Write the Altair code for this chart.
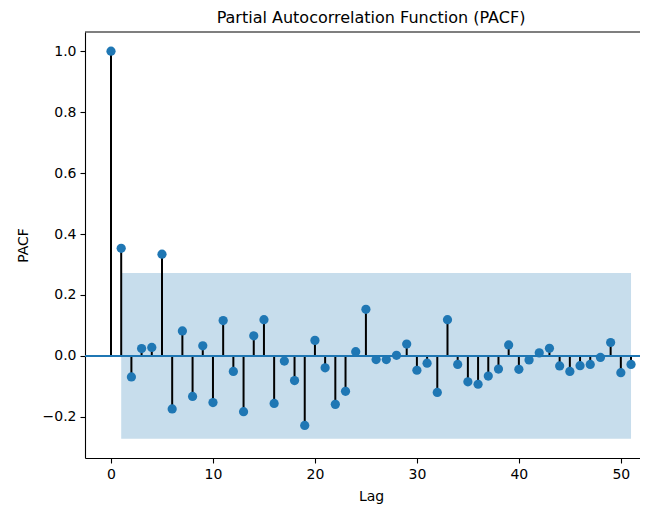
import altair as alt
import pandas as pd

lags = list(range(52))
pacf = [1.0, 0.353, -0.069, 0.024, 0.028, 0.334, -0.174, 0.082, -0.133, 0.033,
        -0.153, 0.116, -0.051, -0.183, 0.066, 0.119, -0.156, -0.017, -0.081, -0.228,
        0.051, -0.039, -0.159, -0.116, 0.014, 0.153, -0.012, -0.012, 0.002, 0.039,
        -0.047, -0.024, -0.120, 0.119, -0.028, -0.085, -0.093, -0.066, -0.043, 0.036,
        -0.044, -0.013, 0.010, 0.025, -0.033, -0.051, -0.032, -0.028, -0.005, 0.044,
        -0.055, -0.028]
band_lag = [1, 51]
conf = 0.272
x_ticks = [0, 10, 20, 30, 40, 50]
y_ticks = [-0.2, 0.0, 0.2, 0.4, 0.6, 0.8, 1.0]
y_domain = [-0.335, 1.063]
x_domain = [-2.55, 51.88]

df = pd.DataFrame({"lag": lags, "pacf": pacf, "base": [0.0] * len(lags)})
band_df = pd.DataFrame({"x": [band_lag[0]], "x2": [band_lag[1]], "lo": [-conf], "hi": [conf],
                        "zero": [0.0], "top": [y_domain[1]]})

C0 = "#1f77b4"
xs = alt.Scale(domain=x_domain, nice=False, zero=False)
ys = alt.Scale(domain=y_domain, nice=False, zero=False)

xax = alt.Axis(values=x_ticks, title="Lag", grid=False, format="d")
yax = alt.Axis(values=y_ticks, title="PACF", grid=False, format=".1f")

band = alt.Chart(band_df).mark_rect(color=C0, opacity=0.25).encode(
    x=alt.X("x:Q", scale=xs, axis=xax), x2="x2:Q",
    y=alt.Y("lo:Q", scale=ys, axis=yax), y2="hi:Q")

stems = alt.Chart(df).mark_rule(color="black", strokeWidth=2).encode(
    x=alt.X("lag:Q", scale=xs), y=alt.Y("base:Q", scale=ys), y2="pacf:Q")

zero = alt.Chart(band_df).mark_rule(color=C0, strokeWidth=2).encode(
    y=alt.Y("zero:Q", scale=ys))

pts = alt.Chart(df).mark_circle(color=C0, opacity=1, size=85).encode(
    x=alt.X("lag:Q", scale=xs), y=alt.Y("pacf:Q", scale=ys))

top = alt.Chart(band_df).mark_rule(color="black", strokeWidth=1.1).encode(
    y=alt.Y("top:Q", scale=ys))

chart = alt.layer(band, stems, zero, pts, top).properties(
    width=555, height=426,
    autosize=alt.AutoSizeParams(type="none"),
    padding={"left": 77, "top": 24, "right": 0, "bottom": 46},
    title=alt.TitleParams("Partial Autocorrelation Function (PACF)", font="DejaVu Sans",
                          fontSize=16, fontWeight="normal", color="black",
                          dx=8.5, offset=5, anchor="middle"),
).configure_view(stroke=None).configure_axis(
    labelFont="DejaVu Sans", titleFont="DejaVu Sans", labelFontSize=14, titleFontSize=14,
    titleFontWeight="normal", labelColor="black", titleColor="black",
    domainColor="black", domainWidth=1.1, tickColor="black", tickWidth=1.1, tickSize=5,
    labelPadding=4,
).configure_axisX(titleX=286, titlePadding=8).configure_axisY(titlePadding=12)

chart.save("out.html", embed_options={"renderer": "svg", "actions": False})
